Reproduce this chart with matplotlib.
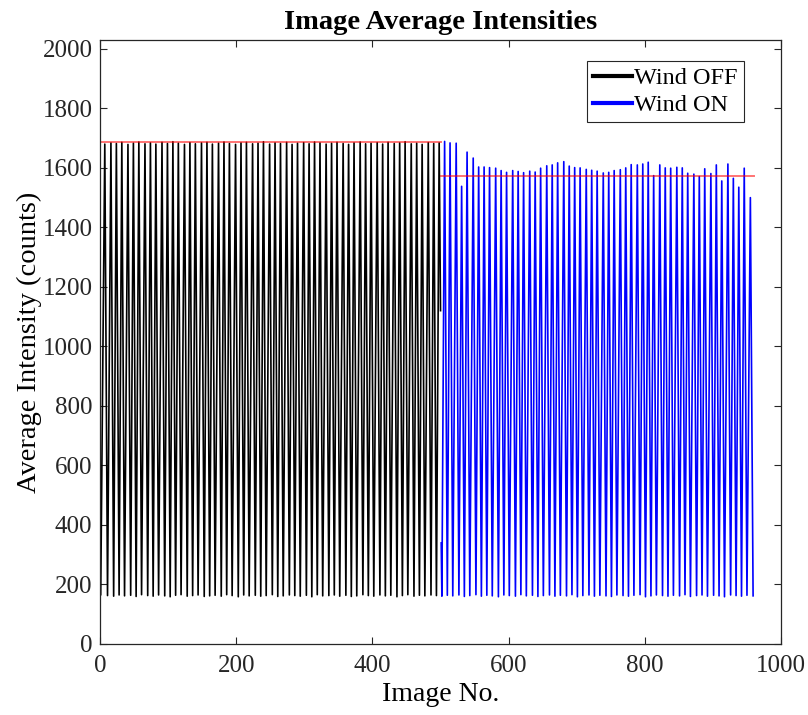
import matplotlib
matplotlib.use("Agg")
import matplotlib.pyplot as plt

plt.rcParams["font.family"] = ["Liberation Serif", "DejaVu Serif"]

# Wind OFF: peak / trough frames and intensities
off_peak_x = [7, 16, 24, 32, 41, 49, 57, 66, 74, 82, 91, 99, 107, 115, 124, 132, 140, 149, 157, 165,
              174, 182, 190, 199, 207, 215, 224, 232, 240, 249, 257, 265, 274, 282, 290, 299, 307, 315, 323, 332,
              340, 348, 357, 365, 373, 382, 390, 398, 407, 415, 423, 432, 440, 448, 457, 465, 473, 482, 490, 498]
off_peak_y = [1680, 1684, 1682, 1686, 1679, 1683, 1687, 1681, 1684, 1680, 1686, 1682, 1688, 1683, 1679, 1685, 1681, 1684, 1686, 1680,
              1683, 1687, 1682, 1679, 1684, 1686, 1681, 1683, 1688, 1680, 1684, 1682, 1686, 1679, 1683, 1685, 1681, 1687, 1684, 1680,
              1683, 1686, 1682, 1679, 1684, 1687, 1681, 1683, 1685, 1680, 1686, 1682, 1684, 1688, 1681, 1683, 1679, 1685, 1682, 1684]
off_trough_x = [1, 11, 20, 28, 36, 45, 53, 61, 70, 78, 86, 95, 103, 111, 119, 128, 136, 144, 153, 161,
                169, 178, 186, 194, 203, 211, 219, 228, 236, 244, 253, 261, 269, 278, 286, 294, 303, 311, 319, 327,
                336, 344, 352, 361, 369, 377, 386, 394, 402, 411, 419, 427, 436, 444, 452, 461, 469, 477, 486, 494]
off_trough_y = [165, 162, 160, 164, 161, 163, 159, 165, 162, 160, 164, 161, 158, 163, 165, 160, 162, 164, 159, 161,
                163, 160, 165, 162, 158, 164, 161, 163, 160, 162, 165, 159, 161, 164, 162, 160, 163, 158, 165, 161,
                162, 164, 160, 163, 159, 161, 165, 162, 160, 164, 161, 163, 158, 162, 165, 160, 163, 161, 164, 162]
off_end = (500, 1120)

# Wind ON
on_start = (501, 339)
on_peak_x = [506, 514, 523, 531, 539, 548, 556, 564, 572, 581, 589, 597, 606, 614, 622, 631, 639, 647, 656, 664,
             672, 681, 689, 697, 705, 714, 722, 730, 739, 747, 755, 764, 772, 780, 789, 797, 805, 813, 822, 830,
             838, 847, 855, 863, 872, 880, 888, 897, 905, 913, 922, 930, 938, 946, 955]
on_peak_y = [1689, 1684, 1683, 1538, 1653, 1633, 1603, 1603, 1601, 1599, 1591, 1585, 1591, 1588, 1584, 1589, 1586, 1599, 1607, 1610,
             1617, 1621, 1606, 1601, 1600, 1595, 1592, 1589, 1583, 1585, 1591, 1594, 1600, 1611, 1610, 1613, 1619, 1574, 1610, 1600,
             1599, 1602, 1600, 1582, 1579, 1571, 1597, 1581, 1610, 1556, 1613, 1565, 1535, 1599, 1500]
on_trough_x = [502, 510, 518, 527, 535, 543, 552, 560, 568, 576, 585, 593, 601, 610, 618, 626, 635, 643, 651, 660,
               668, 676, 685, 693, 701, 709, 718, 726, 734, 743, 751, 759, 768, 776, 784, 793, 801, 809, 817, 826,
               834, 842, 851, 859, 867, 876, 884, 892, 901, 909, 917, 926, 934, 942, 950, 959]
on_trough_y = [160, 163, 161, 164, 159, 162, 165, 160, 163, 161, 158, 164, 162, 160, 165, 161, 163, 159, 162, 164,
               160, 163, 161, 165, 158, 162, 164, 160, 163, 161, 159, 164, 162, 160, 163, 165, 158, 161, 164, 162,
               160, 163, 161, 165, 159, 162, 164, 160, 163, 161, 158, 164, 162, 160, 163, 161]

# mean-peak reference lines
off_mean = 1686
on_mean = 1574
off_range = (0, 500)
on_range = (500, 960)


def zigzag(trough_x, trough_y, peak_x, peak_y):
    pts = sorted(zip(trough_x + peak_x, trough_y + peak_y))
    return [p[0] for p in pts], [p[1] for p in pts]


ox, oy = zigzag(off_trough_x, off_trough_y, off_peak_x, off_peak_y)
ox.append(off_end[0]); oy.append(off_end[1])
nx, ny = zigzag(on_trough_x, on_trough_y, on_peak_x, on_peak_y)
nx.insert(0, on_start[0]); ny.insert(0, on_start[1])

fig = plt.figure(figsize=(8.08, 7.15), dpi=100)
ax = fig.add_axes([0.1238, 0.0997, 0.8428, 0.8443])

ax.plot(ox, oy, color="black", lw=1.2, label="Wind OFF")
ax.plot(nx, ny, color="blue", lw=1.2, label="Wind ON")
ax.plot(off_range, [off_mean, off_mean], color="red", lw=1.4, alpha=0.55)
ax.plot(on_range, [on_mean, on_mean], color="red", lw=1.4, alpha=0.55)

ax.set_xlim(0, 1000)
ax.set_ylim(0, 2030)
ax.set_xticks(range(0, 1001, 200))
ax.set_yticks(range(0, 2001, 200))
ax.tick_params(direction="in", length=5, width=0.8, top=True, right=True,
               labelsize=18, colors="#262626")
ax.tick_params(axis="x", pad=8)
ax.tick_params(axis="y", pad=5.5)
for s in ax.spines.values():
    s.set_color("#262626")
    s.set_linewidth(0.9)

ax.set_xlabel("Image No.", fontsize=20, labelpad=4)
ax.set_ylabel("Average Intensity (counts)", fontsize=20.5, labelpad=0)
ax.set_title("Image Average Intensities", fontsize=20.5, fontweight="bold", pad=8)

leg = ax.legend(loc="upper right", fontsize=17.5, handlelength=1.6, handletextpad=0.1,
                borderpad=0.25, labelspacing=0.2, fancybox=False, framealpha=1,
                bbox_to_anchor=(0.963, 0.985))
leg.get_frame().set_edgecolor("#262626")
leg.get_frame().set_linewidth(0.8)
for line in leg.get_lines():
    line.set_linewidth(3)

fig.savefig("out.png", dpi=100)
